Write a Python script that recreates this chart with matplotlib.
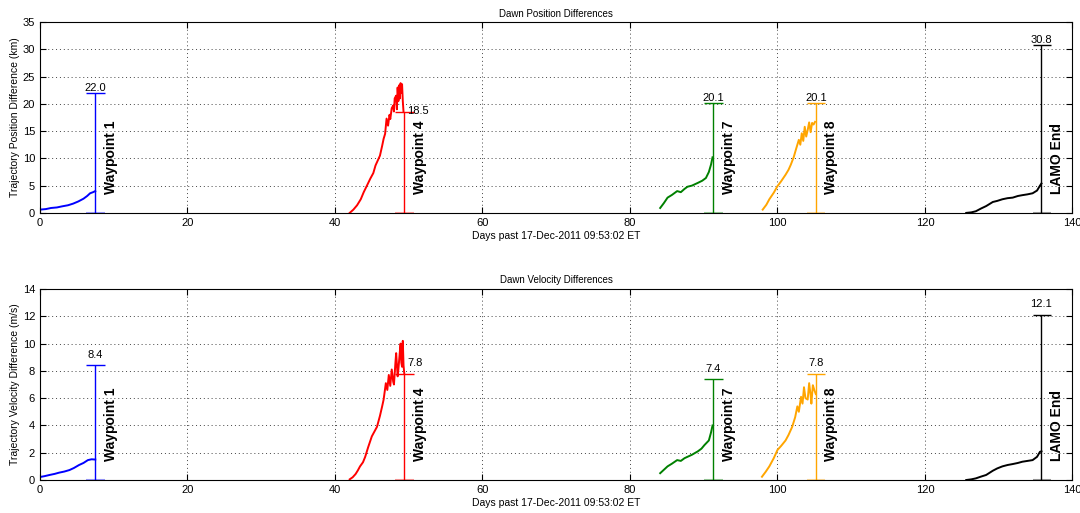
import matplotlib.pyplot as plt
from matplotlib.transforms import blended_transform_factory

plt.rcParams['font.family'] = ['Liberation Sans', 'DejaVu Sans']

# Segment data (days, value)
pos_wp1_days = [0.0, 0.8, 1.5, 2.3, 3.0, 3.8, 4.5, 5.2, 5.9, 6.4, 6.8, 7.2, 7.5]
pos_wp1_vals = [0.6, 0.7, 0.9, 1.0, 1.2, 1.4, 1.7, 2.1, 2.6, 3.1, 3.6, 3.8, 4.0]
pos_wp4_days = [42.0, 42.5, 43.0, 43.5, 43.9, 44.3, 44.8, 45.2, 45.5, 45.8, 46.1, 46.4,
                46.6, 46.8, 47.0, 47.2, 47.4, 47.5, 47.7, 47.9, 48.0, 48.1, 48.3, 48.4,
                48.5, 48.6, 48.7, 48.8, 48.9, 49.0, 49.1, 49.2, 49.3]
pos_wp4_vals = [0.0, 0.6, 1.4, 2.5, 3.8, 4.9, 6.3, 7.3, 8.7, 9.6, 10.5, 12.3,
                13.6, 14.5, 17.3, 16.0, 18.0, 17.2, 19.2, 19.7, 18.6, 21.0, 21.5, 19.0,
                23.0, 20.5, 23.4, 21.0, 23.8, 22.0, 23.6, 20.5, 18.5]
pos_wp7_days = [84.1, 84.6, 85.1, 85.7, 86.4, 86.9, 87.4, 87.8, 88.4, 89.2, 89.8, 90.3, 90.7, 91.0, 91.2]
pos_wp7_vals = [0.9, 1.8, 2.8, 3.3, 4.0, 3.8, 4.4, 4.8, 5.0, 5.5, 5.9, 6.4, 7.5, 8.9, 10.2]
pos_wp8_days = [98.0, 98.5, 98.9, 99.5, 100.0, 100.5, 101.1, 101.5, 101.8, 102.2, 102.5, 102.9,
                103.1, 103.3, 103.5, 103.7, 103.9, 104.1, 104.3, 104.5, 104.7, 104.9, 105.1]
pos_wp8_vals = [0.6, 1.5, 2.5, 3.7, 4.9, 5.8, 7.0, 7.9, 8.8, 10.2, 11.6, 13.4,
                12.5, 14.6, 13.2, 15.8, 14.0, 15.2, 16.6, 14.8, 16.5, 16.2, 16.7]
pos_lamo_days = [125.6, 126.3, 126.9, 127.6, 128.3, 129.2, 129.8, 130.5, 131.2, 131.9, 132.6, 133.2,
                 133.9, 134.6, 135.2, 135.6, 135.8]
pos_lamo_vals = [0.0, 0.1, 0.3, 0.8, 1.25, 2.0, 2.2, 2.5, 2.7, 2.8, 3.1, 3.25,
                 3.4, 3.6, 4.1, 5.0, 5.4]

vel_wp1_days = [0.0, 0.6, 1.3, 2.0, 2.6, 3.3, 4.0, 4.6, 5.3, 5.9, 6.5, 7.0, 7.5]
vel_wp1_vals = [0.22, 0.28, 0.37, 0.45, 0.54, 0.62, 0.73, 0.88, 1.1, 1.25, 1.46, 1.52, 1.5]
vel_wp4_days = [42.0, 42.4, 42.8, 43.1, 43.4, 43.8, 44.1, 44.5, 45.0, 45.3, 45.7, 46.1,
                46.4, 46.6, 46.9, 47.1, 47.3, 47.5, 47.7, 47.9, 48.0, 48.2, 48.3, 48.5,
                48.6, 48.8, 48.9, 49.0, 49.1, 49.2, 49.3, 49.4]
vel_wp4_vals = [0.05, 0.2, 0.44, 0.7, 1.0, 1.3, 1.7, 2.4, 3.2, 3.5, 3.9, 4.7,
                5.4, 5.9, 7.1, 6.6, 7.7, 6.9, 8.1, 7.2, 7.0, 8.6, 9.3, 7.6,
                8.1, 9.4, 10.0, 8.6, 8.3, 10.2, 8.4, 7.8]
vel_wp7_days = [84.1, 84.6, 85.1, 85.7, 86.4, 86.9, 87.4, 87.8, 88.4, 89.2, 89.7, 90.1, 90.7, 91.0, 91.2]
vel_wp7_vals = [0.5, 0.75, 1.0, 1.2, 1.46, 1.4, 1.6, 1.7, 1.85, 2.1, 2.3, 2.56, 2.9, 3.5, 4.0]
vel_wp8_days = [97.9, 98.4, 98.9, 99.5, 100.0, 100.5, 101.1, 101.5, 102.0, 102.4, 102.7, 102.9,
                103.2, 103.4, 103.6, 103.8, 104.1, 104.3, 104.5, 104.6, 104.8, 105.0, 105.2]
vel_wp8_vals = [0.24, 0.6, 1.0, 1.6, 2.2, 2.5, 2.9, 3.3, 3.9, 4.6, 5.4, 5.0,
                6.1, 5.6, 6.8, 6.0, 5.9, 7.1, 6.2, 5.6, 6.95, 6.6, 6.3]
vel_lamo_days = [125.6, 126.3, 126.9, 127.6, 128.3, 129.2, 129.8, 130.5, 131.2, 131.9, 132.6, 133.2,
                 133.9, 134.6, 135.2, 135.6, 135.8]
vel_lamo_vals = [0.0, 0.05, 0.12, 0.25, 0.37, 0.68, 0.85, 1.0, 1.1, 1.17, 1.25, 1.34,
                 1.4, 1.46, 1.7, 2.07, 2.1]

# Waypoint markers
wp_names = ['Waypoint 1', 'Waypoint 4', 'Waypoint 7', 'Waypoint 8', 'LAMO End']
wp_days = [7.5, 49.4, 91.3, 105.2, 135.8]
wp_colors = ['#0000ff', '#ff0000', '#008000', '#ffa500', '#000000']
pos_marks = [22.0, 18.5, 20.1, 20.1, 30.8]
vel_marks = [8.4, 7.8, 7.4, 7.8, 12.1]

pos_segs = [(pos_wp1_days, pos_wp1_vals), (pos_wp4_days, pos_wp4_vals), (pos_wp7_days, pos_wp7_vals),
            (pos_wp8_days, pos_wp8_vals), (pos_lamo_days, pos_lamo_vals)]
vel_segs = [(vel_wp1_days, vel_wp1_vals), (vel_wp4_days, vel_wp4_vals), (vel_wp7_days, vel_wp7_vals),
            (vel_wp8_days, vel_wp8_vals), (vel_lamo_days, vel_lamo_vals)]

fig = plt.figure(figsize=(10.8, 5.13), dpi=100)
ax1 = fig.add_axes([0.037, 0.585, 0.956, 0.372])
ax2 = fig.add_axes([0.037, 0.0643, 0.956, 0.3723])


def draw_panel(ax, segs, marks, ymax, ystep, title, ylabel, label_pad, side_pad):
    for (d, v), c in zip(segs, wp_colors):
        ax.plot(d, v, color=c, lw=1.4)
    for i, (x, m, c, name) in enumerate(zip(wp_days, marks, wp_colors, wp_names)):
        ax.vlines(x, 0, m, color=c, lw=1.0)
        ax.hlines(m, x - 1.2, x + 1.3, color=c, lw=1.0)
        ax.hlines(0, x - 1.2, x + 1.3, color=c, lw=1.5, alpha=0.4)
        if i == 1:
            # this label sits to the right of the marker
            ax.annotate(f'{m:.1f}', (x + 0.2, m), xytext=(1, side_pad), textcoords='offset points',
                        ha='left', va='bottom', fontsize=8)
        else:
            ax.annotate(f'{m:.1f}', (x, m), xytext=(0, label_pad), textcoords='offset points',
                        ha='center', va='bottom', fontsize=8)
        tr = blended_transform_factory(ax.transData, ax.transAxes)
        ax.text(x + 2.1, 0.1, name, transform=tr, rotation=90, ha='center', va='bottom',
                fontsize=10, fontweight='bold')
    ax.set_xlim(0, 140)
    ax.set_ylim(0, ymax)
    ax.set_xticks(range(0, 141, 20))
    ax.set_yticks([ystep * k for k in range(int(ymax / ystep) + 1)])
    ax.grid(True, linestyle=(0, (1, 3)), color='#444444', lw=0.7)
    ax.tick_params(direction='in', labelsize=8, top=True, right=True, length=4)
    ax.set_title(title, fontsize=7, pad=4)
    ax.set_xlabel('Days past 17-Dec-2011 09:53:02 ET', fontsize=7.5, labelpad=2)
    ax.set_ylabel(ylabel, fontsize=7.5, labelpad=2)


draw_panel(ax1, pos_segs, pos_marks, 35, 5, 'Dawn Position Differences',
           'Trajectory Position Difference (km)', 0, -3)
draw_panel(ax2, vel_segs, vel_marks, 14, 2, 'Dawn Velocity Differences',
           'Trajectory Velocity Difference (m/s)', 4, 4)

fig.savefig('out.png', dpi=100)
